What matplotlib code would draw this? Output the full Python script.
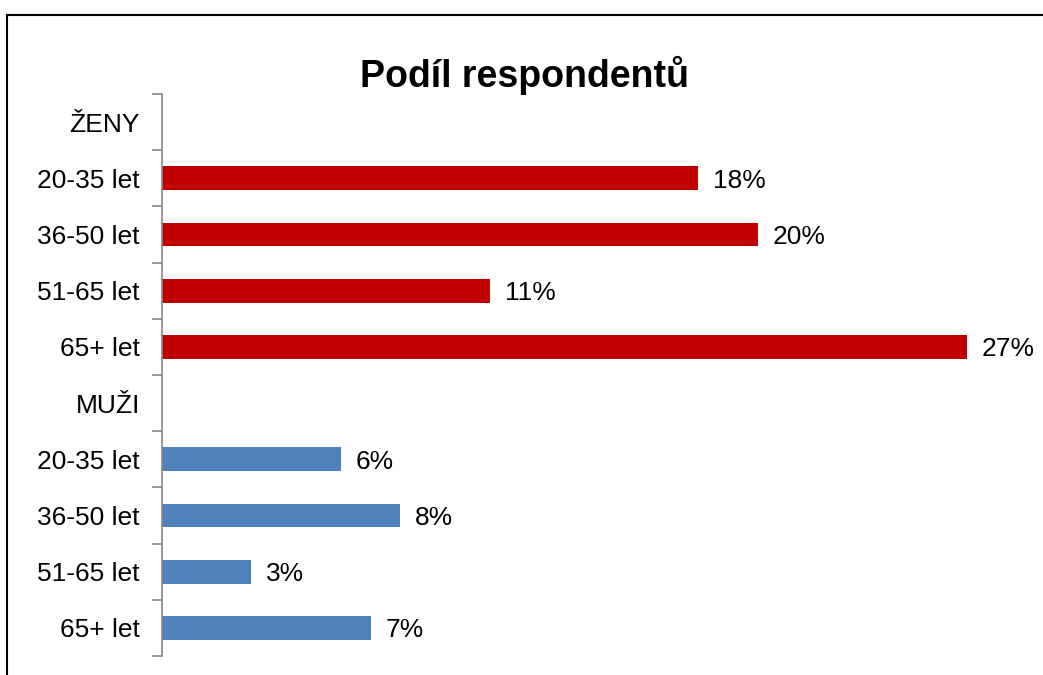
import matplotlib
matplotlib.use("Agg")
import matplotlib.pyplot as plt
from matplotlib.lines import Line2D
import numpy as np

plt.rcParams['font.family'] = ['Liberation Sans', 'DejaVu Sans']

categories = ["ŽENY", "20-35 let", "36-50 let", "51-65 let", "65+ let",
              "MUŽI", "20-35 let", "36-50 let", "51-65 let", "65+ let"]
values = [None, 18, 20, 11, 27, None, 6, 8, 3, 7]
groups = [None, "F", "F", "F", "F", None, "M", "M", "M", "M"]
colors_map = {"F": "#C00000", "M": "#4F81BD"}
title = "Podíl respondentů"

W, H = 1043, 675
fig = plt.figure(figsize=(W / 100, H / 100), dpi=100)
ax = fig.add_axes([162 / W, 1 - 656 / H, (W - 162) / W, (656 - 94) / H])

n = len(categories)
ypos = np.arange(n)
for i, (v, g) in enumerate(zip(values, groups)):
    if v is None:
        continue
    ax.barh(i, v, height=0.42, color=colors_map[g], edgecolor='none')
    ax.text(v + 0.5, i, f"{v}%", va='center_baseline', ha='left', fontsize=19)

ax.set_ylim(n - 0.5, -0.5)
ax.set_xlim(0, (W - 162) / 29.8)
ax.set_yticks(ypos)
ax.set_yticklabels(categories, fontsize=19)
ax.tick_params(axis='y', length=0, pad=16)
ax.set_yticks(np.arange(-0.5, n, 1), minor=True)
ax.tick_params(axis='y', which='minor', length=7, width=1.2, color='#888888', direction='out')
ax.set_xticks([])
for s in ['top', 'right', 'bottom']:
    ax.spines[s].set_visible(False)
ax.spines['left'].set_color('#888888')
ax.spines['left'].set_linewidth(1.2)

fig.text(524 / W, 1 - 71 / H, title, ha='center', va='center_baseline', fontsize=27, fontweight='bold')

# outer border (left and top visible)
fig.add_artist(Line2D([7 / W, 7 / W], [0, 1 - 15 / H], transform=fig.transFigure, color='black', lw=1.5))
fig.add_artist(Line2D([7 / W, 1], [1 - 15 / H, 1 - 15 / H], transform=fig.transFigure, color='black', lw=1.5))

fig.savefig("out.png", dpi=100)
